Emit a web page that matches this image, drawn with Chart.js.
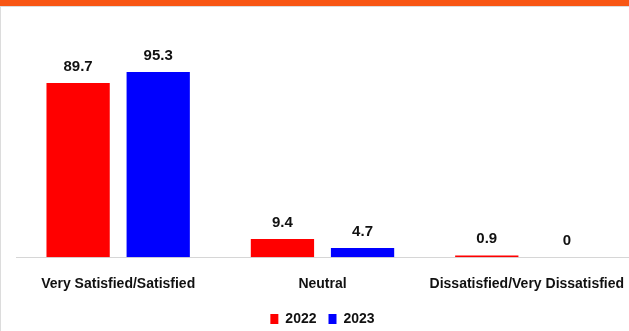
<!DOCTYPE html>
<html><head><meta charset="utf-8">
<script src="https://cdn.jsdelivr.net/npm/chart.js@4"></script>
<style>
html,body{margin:0;padding:0;background:#fff;}
#wrap{position:relative;width:629px;height:331px;overflow:hidden;}
#frame{position:absolute;left:0;top:0;width:629px;height:331px;box-sizing:border-box;border-top:6px solid #F85614;}
#frame2{position:absolute;left:0;top:6px;width:640px;height:340px;box-sizing:border-box;border:1.5px solid #dcdcdc;}
canvas{position:absolute;left:0;top:0;}
</style></head>
<body><div id="wrap"><div id="frame"></div><div id="frame2"></div><canvas id="c" width="629" height="331"></canvas></div>
<script>
const categories = ["Very Satisfied/Satisfied", "Neutral", "Dissatisfied/Very Dissatisfied"];
const seriesNames = ["2022", "2023"];
const values2022 = [89.7, 9.4, 0.9];
const values2023 = [95.3, 4.7, 0];
const colors = ["#FF0000", "#0000FF"];
const FONT = "'Liberation Sans', Arial, sans-serif";

const valueLabels = {
  id: 'valueLabels',
  afterDatasetsDraw(chart) {
    const ctx = chart.ctx;
    ctx.save();
    ctx.font = "bold 15px " + FONT;
    ctx.fillStyle = "#111";
    ctx.textAlign = "center";
    ctx.textBaseline = "alphabetic";
    chart.data.datasets.forEach((ds, i) => {
      const meta = chart.getDatasetMeta(i);
      meta.data.forEach((bar, j) => {
        ctx.fillText(String(ds.data[j]), bar.x, bar.y - 12);
      });
    });
    ctx.restore();
  }
};

new Chart(document.getElementById('c'), {
  type: 'bar',
  data: {
    labels: categories,
    datasets: [
      {label: seriesNames[0], data: values2022, backgroundColor: colors[0], borderWidth: 0},
      {label: seriesNames[1], data: values2023, backgroundColor: colors[1], borderWidth: 0}
    ]
  },
  options: {
    responsive: false,
    animation: false,
    devicePixelRatio: 1,
    categoryPercentage: 0.784,
    barPercentage: 0.79,
    layout: {padding: {left: 16, right: 0, top: 24, bottom: -5}},
    plugins: {
      legend: {
        position: 'bottom',
        labels: {font: {family: FONT, size: 14, weight: 'bold'}, color: '#111', boxWidth: 8, boxHeight: 10, padding: 12}
      },
      tooltip: {enabled: false}
    },
    scales: {
      x: {
        grid: {display: false, drawTicks: false},
        border: {display: true, color: '#d6d6d6', width: 1},
        ticks: {font: {family: FONT, size: 14, weight: 'bold'}, color: '#111', padding: 19, maxRotation: 0, autoSkip: false},
        afterFit: function(s) { s.paddingLeft = 0; s.paddingRight = 0; s.height -= 12; }
      },
      y: {
        display: false,
        min: 0, max: 120
      }
    }
  },
  plugins: [valueLabels]
});
</script></body></html>
